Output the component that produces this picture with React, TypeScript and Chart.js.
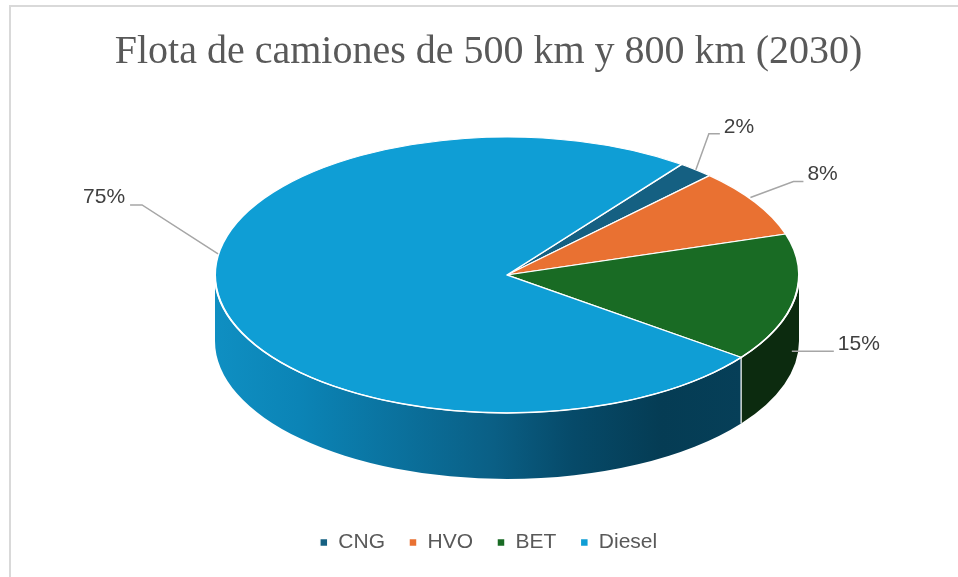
import React, { useEffect, useRef } from "react";
import { Chart, registerables } from "chart.js";

Chart.register(...registerables);

// ---- data ----
const categories = ["CNG", "HVO", "BET", "Diesel"];
const shares = [2, 8, 15, 75];
const pctLabels = ["2%", "8%", "15%", "75%"];
const topColors = ["#156082", "#E97132", "#196B24", "#0F9ED5"];
const sideColors = ["#0b3447", "#7d3a16", "#0c2b0f", "gradient"];
const TITLE = "Flota de camiones de 500 km y 800 km (2030)";

// ---- 3D projection (style) ----
const CX = 507;
const CY = 275;
const RX = 292;
const RY = 138;
const DEPTH = 66;

// leader-line styling per slice (offsets relative to rim anchor)
const leaderStyle = [
  { ax: 0, ay: 0, ex: 13, ey: -36, hx: 11 },
  { ax: -5, ay: -5, ex: 43, ey: -16, hx: 10 },
  { ax: -3, ay: 53, ex: 0, ey: 0, hx: 42 },
  { ax: 0, ay: -41, ex: -76, ey: -49, hx: -12 },
];

function drawSide(ctx: CanvasRenderingContext2D, lo: number, hi: number, i: number) {
  ctx.save();
  ctx.beginPath();
  ctx.ellipse(CX, CY, RX, RY, 0, lo, hi);
  ctx.lineTo(CX + RX * Math.cos(hi), CY + DEPTH + RY * Math.sin(hi));
  ctx.ellipse(CX, CY + DEPTH, RX, RY, 0, hi, lo, true);
  ctx.closePath();
  if (sideColors[i] === "gradient") {
    const x0 = CX - RX;
    const x1 = CX + RX * Math.cos(lo);
    const g = ctx.createLinearGradient(x0, 0, x1, 0);
    g.addColorStop(0, "#0f8fc2");
    g.addColorStop(0.16, "#0b84b6");
    g.addColorStop(0.53, "#0a5f85");
    g.addColorStop(0.68, "#064a69");
    g.addColorStop(0.85, "#053c54");
    g.addColorStop(1, "#063f58");
    ctx.fillStyle = g;
  } else {
    ctx.fillStyle = sideColors[i];
  }
  ctx.fill();
  ctx.restore();
}

const pie3d = {
  id: "pie3d",
  beforeDatasetsDraw(chart: any) {
    const ctx: CanvasRenderingContext2D = chart.ctx;
    const arcs = chart.getDatasetMeta(0).data;
    arcs.forEach((arc: any, i: number) => {
      const { startAngle, endAngle } = arc.getProps(["startAngle", "endAngle"], true);
      for (let k = -1; k <= 1; k++) {
        const lo = Math.max(startAngle, k * 2 * Math.PI);
        const hi = Math.min(endAngle, k * 2 * Math.PI + Math.PI);
        if (hi > lo) drawSide(ctx, lo, hi, i);
      }
    });
    const a0 = arcs[0];
    ctx.save();
    ctx.translate(CX, CY);
    ctx.scale(RX / a0.outerRadius, RY / a0.outerRadius);
    ctx.translate(-a0.x, -a0.y);
  },
  afterDatasetsDraw(chart: any) {
    const ctx: CanvasRenderingContext2D = chart.ctx;
    ctx.restore();
    const arcs = chart.getDatasetMeta(0).data;
    // white rim on the front edge
    ctx.save();
    ctx.strokeStyle = "#ffffff";
    ctx.lineWidth = 1.5;
    ctx.beginPath();
    ctx.ellipse(CX, CY, RX, RY, 0, 0, Math.PI);
    ctx.stroke();
    // vertical seams between slices on the side
    arcs.forEach((arc: any) => {
      const { startAngle } = arc.getProps(["startAngle"], true);
      let a = startAngle;
      while (a < 0) a += 2 * Math.PI;
      while (a >= 2 * Math.PI) a -= 2 * Math.PI;
      if (a > 0.01 && a < Math.PI - 0.01) {
        const x = CX + RX * Math.cos(a);
        const y = CY + RY * Math.sin(a);
        ctx.beginPath();
        ctx.moveTo(x, y);
        ctx.lineTo(x, y + DEPTH);
        ctx.lineWidth = 1.2;
        ctx.stroke();
      }
    });
    ctx.restore();

    // data labels with leader lines
    ctx.save();
    ctx.font = "21px 'Liberation Sans', Arial, sans-serif";
    ctx.fillStyle = "#404040";
    ctx.strokeStyle = "#a6a6a6";
    ctx.lineWidth = 1.5;
    ctx.textBaseline = "middle";
    arcs.forEach((arc: any, i: number) => {
      const { startAngle, endAngle } = arc.getProps(["startAngle", "endAngle"], true);
      const m = (startAngle + endAngle) / 2;
      const s = leaderStyle[i];
      const ax = CX + RX * Math.cos(m) + s.ax;
      const ay = CY + RY * Math.sin(m) + s.ay;
      const exx = ax + s.ex;
      const eyy = ay + s.ey;
      const fx = exx + s.hx;
      ctx.beginPath();
      ctx.moveTo(ax, ay);
      ctx.lineTo(exx, eyy);
      ctx.lineTo(fx, eyy);
      ctx.stroke();
      if (s.hx >= 0) {
        ctx.textAlign = "left";
        ctx.fillText(pctLabels[i], fx + 4, eyy - 7);
      } else {
        ctx.textAlign = "right";
        ctx.fillText(pctLabels[i], fx - 5, eyy - 8);
      }
    });
    ctx.restore();
  },
};

export default function App() {
  const ref = useRef<HTMLCanvasElement | null>(null);
  useEffect(() => {
    if (!ref.current) return;
    const chart = new Chart(ref.current, {
      type: "pie",
      data: {
        labels: categories,
        datasets: [
          {
            data: shares,
            backgroundColor: topColors,
            borderColor: "#ffffff",
            borderWidth: 1.5,
            clip: false as any,
          },
        ],
      },
      options: {
        responsive: false,
        animation: false,
        events: [],
        rotation: 90 - 53.3,
        layout: { padding: { left: 19, right: 0, bottom: 14 } },
        plugins: {
          title: {
            display: true,
            text: TITLE,
            color: "#595959",
            font: { family: "'Liberation Serif', 'Times New Roman', serif", size: 40, weight: "normal" },
            padding: { top: 28, bottom: 10 },
          },
          legend: {
            position: "bottom",
            labels: {
              usePointStyle: true,
              pointStyle: "rect",
              boxWidth: 8,
              boxHeight: 8,
              padding: 24,
              color: "#595959",
              font: { family: "'Liberation Sans', Arial, sans-serif", size: 21 },
            },
          },
          tooltip: { enabled: false },
        },
      },
      plugins: [pie3d],
    });
    return () => chart.destroy();
  }, []);

  return (
    <div style={{ position: "absolute", left: 0, top: 0, width: 958, height: 577, overflow: "hidden", background: "#ffffff" }}>
      <div
        style={{
          position: "absolute",
          left: 9,
          top: 5,
          width: 949,
          height: 572,
          boxSizing: "border-box",
          borderLeft: "2px solid #d9d9d9",
          borderTop: "2px solid #d9d9d9",
        }}
      />
      <canvas ref={ref} width={958} height={577} style={{ position: "absolute", left: 0, top: 0, width: 958, height: 577 }} />
    </div>
  );
}
